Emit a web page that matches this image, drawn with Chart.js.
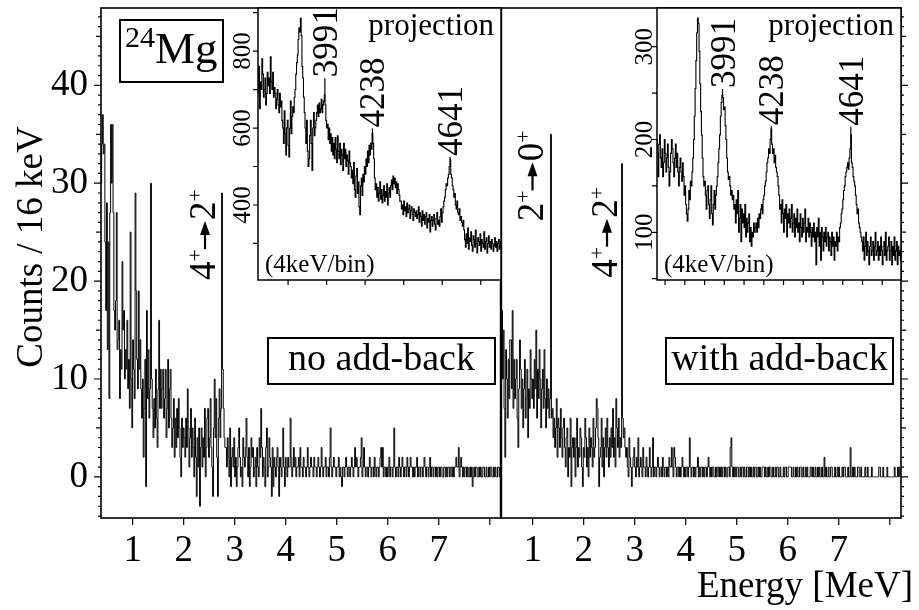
<!DOCTYPE html>
<html>
<head>
<meta charset="utf-8">
<script src="https://cdn.jsdelivr.net/npm/chart.js@4.4.1/dist/chart.umd.min.js"></script>
<style>
  html, body { margin: 0; padding: 0; background: #fff; }
  #wrap { position: relative; width: 919px; height: 610px; }
  #wrap canvas { position: absolute; left: 0; top: 0; }
</style>
</head>
<body>
<div id="wrap">
  <canvas id="mainNoAb" width="919" height="610"></canvas>
  <canvas id="mainAb" width="919" height="610"></canvas>
  <canvas id="projNoAb" width="919" height="610"></canvas>
  <canvas id="projAb" width="919" height="610"></canvas>
</div>
<script>
// singles spectra, 16 keV per bin, first bin centred at 0.384 MeV
const BIN_MEV = 0.016;
const FIRST_BIN_MEV = 0.384;

const countsNoAddBack = [
  30, 34, 37, 33, 34, 24, 17, 28, 13, 24, 8, 27, 36, 30,
  36, 27, 17, 15, 18, 27, 13, 14, 16, 8, 13, 11, 22, 15, 17, 10,
  13, 11, 16, 9, 12, 7, 25, 10, 5, 14, 11, 8, 29, 19, 12, 9, 19, 11, 14,
  9, 6, 10, 2, 7, 12, -1, 17, 8, 13, 6, 9, 30, 10, 7, 4, 8, 5, 11, 6, 3, 9, 16, 7, 11,
  7, 9, 11, 6, 8, 11, 4, 7, 12, 5, 9, 11, 6, 3, 5, 8, 2, 6, 3, 7, 4, 8, 5, 2, 0, 6, 3, 5,
  4, 2, 6, 3, 9, 5, 1, 4, 7, 2, 5, 3, 0, 6, 2, -2, 4, 1, 5, -3,
  3, 5, 1, 4, 2, 7, 0, 3, 6, 7, 2, 4, 8, 3, 1, -2, 5, 10, 4, 8, 2, -2, 6, 9, 4, 7,
  29,
  11, 7, 4, 3,
  3, 1, 4, 2, 0, 5, -1, 2, 3, 1, 4, 0, 2, -1, 1, 3, 5, 2, 0, 1,
  -1, 4, 2, 1, 3, 6, 2, 0, 3, -1, 1, 4, 2, 3, 0, 1, 2, -1, 3, 1,
  0, 4, 2, 7, 3, 0, 2, 1, -1, 3, 5, 0, 1, 4, 2, 1, -2, 3, -1, 2,
  1, 0, 2, 3, 1, -2, 2, 1, 0, 2, 5, 1, -1, 2,
  1, 0, 2, 1, 1, 6, 2, 0, 1, 3, 1, 2, 0, 1, 1, 2, 0, 3, 1, 1,
  0, 2, 1, 1, 0, 1, 3, 1, 0, 1, 2, 1, 1, 0, 2, 1, 1, 0, 1, 2,
  1, 0, 1, 3, 1, 0, 1, 1, 2, 0, 1, 1, 0, 2, 5, 1, 0, 1, 2, 1,
  1, 0, 1, 1, 2, 0, 1, 0, -1, 1, 1, 0, 1, 2, 1, 0, 1, 1, 0, 1,
  2, 1, 0, 1, 3, 1, 2, 1, 0, 1, 1, 2, 4, 0, 1, 3, 1, 0, 1, 1,
  0, 1, 2, 1, 0, 1, 1, 0, 2, 1, 0, 1, 1, 0, 1, 2, 3, 1, 3, 0,
  1, 1, 0, 1, 0, 1, 2, 0, 1, 1, 0, 1, 5, 1, 0, 1, 1, 0, 2, 1,
  0, 1, 2, 1, 0, 1, 1, 0, 2, 1, 0, 1, 2, 1, 1, 0, 1, 0, 1, 1,
  2, 0, 1, 1, 0, 1, 1, 0, 1, 2, 1, 0, 1, 1, 0, 1, 2, 0, 1, 1,
  0, 1, 1, 0, 1, 0, 1, 1, 0, 1, 1, 0, 0, 1, 1, 0, 1, 0, 1, 1,
  0, 1, 1, 0, 1, 0, 1, 1, 2, 1, 1, 3, 0, 1, 2, 1, 0, 1, 0, 1,
  1, 0, 1, 0, 0, 1, 0, 1, -1, 0, 1, 0, 1, 1, 0, 0, 1, 0, 1, 0,
  0, 1, 1, 0, 0, 1, 0, 0, 1, 0, 1, 1, 0, 0, 1, 0, 1, 0, 0, 1, 1, 0, 1
];

const countsAddBack = [
  12, 17, 10, 15, 7, 2, 13, 10, 6, 12, 8, 14,
  14, 9, 17, 7, 12, 8, 10, 12, 6, 3, 9, 14, 11, 7, 10, 5, 9, 12, 6, 8, 11, 4, 9, 7, 13, 10, 8,
  10, 7, 12, 9, 15, 6, 11, 8, 13, 10, 5, 9, 11, 7, 13, 8, 5, 10, 7, 9, 6, 8,
  35,
  6, 7, 4, 6, 3, 5, 8, 2, 6, 5, 3, 7, 4, 2, 5, 6, 3, 1, 4, 5, 0, 3, 2, 6, -1, 3, 4,
  2, 4, 0, 3, 6, 1, 3, 2, 5, 4, 1, -1, 3, 2, 6, 4, 1, 3, 0, 5,
  2, 4, 3, 1, 6, 2, 3, 5, 8, 7, 4, -1, 2, 3, 6, 1, 4, 0, 3, 5,
  2, 6, 3, 1, 4, 2, 5, 3, 7, 2, 4, 1, 8, 5, 3, 6, 2, 4, 3,
  32,
  6, 4, 5, 3,
  2, 3, 1, 0, 4, 2, 1, -1, 1, 2, 3, 1, 0, 2, 1, 4, 0, 1, 2, 1,
  0, 3, 1, 1, 0, 2, 1, 0, 1, 3, 1, 0, 1, 4, 0, 1,
  1, 0, 1, 2, 1, 0, 1, 1, 0, 2, 1, 0, 1, 1, 0, 1, 0, 2, 1, 1,
  3, 1, 0, 3, 2, 1, 0, 1, 1, 0, 1, 0, 1, 2, 1, 0, 1, 0, 1, 1,
  0, 1, 4, 1, 0, 1, 1, 0, 1, 0, 1, 1, 2, 0, 1, 0, 1, 1, 0, 1,
  0, 1, 1, 0, 1, 2, 1, 0, 1, 0, 1, 1, 0, 0, 1, 0, 1, 1, 0, 1,
  0, 1, 0, 1, 1, 0, 1, 0, 0, 1, 1, 0, 3, 4, 1, 0, 1, 0, 1, 0,
  1, 1, 0, 0, 1, 0, 1, 1, 0, 1, 0, 0, 1, 1, 0, 1, 0, 1, 0, 0,
  1, 0, 1, 1, 0, 0, 1, 0, 1, 0, 0, 1, 1, 1, 0, 1, 0, 0, 1, 0,
  1, 1, 0, 0, 1, 0, 0, 1, 0, 1, 1, 0, 0, 1, 0, 0, 0, 1, 0, 1,
  1, 0, 0, 1, 1, 1, 1, 0, 0, 1, 0, 0, 1, 0, 1, 0, 0, 1, 1, 0,
  0, 1, 0, 0, 1, 0, 1, 0, 0, 0, 1, 1, 0, 1, 0, 0, 1, 0, 0, 1,
  0, 1, 0, 0, 1, 0, 0, 2, 0, 1, 0, 0, 1, 0, 0, 1, 1, 0, 0, 0,
  1, 0, 0, 1, 0, 1, 0, 0, 0, 1, 0, 1, 1, 0, 0, 0, 1, 0, 0, 3,
  0, 0, 1, 0, 1, 0, 0, 0, 1, 1, 0, 0, 1, 0, 0, 0, 0, 1, 0, 0,
  1, 0, 0, 0, 0, 1, 0, 0, 0, 0, 0, 0, 0, 0, 1, 1, 0, 0, 0, 1,
  0, 0, 0, 0, 1, 0, 0, 0, 0, 0, 0, 0, 0, 1, 0, 0, 0, 1, 0, 1, 0
];

// coincidence projections, 4 keV per bin, first bin centred at 3646 keV
const PROJ_BIN_KEV = 4;
const PROJ_FIRST_KEV = 3646;

const projNoAddBack = [
  690, 760, 650, 720, 700, 780, 740, 680, 700, 730, 660, 690, 745, 710, 730, 690, 785, 720, 700, 745,
  680, 705, 690, 650, 675, 700, 660, 640, 690, 655, 670,
  620, 600, 560, 645, 585, 530, 600, 620, 555, 525, 600, 670, 585, 630, 655,
  640, 680, 700, 740, 770, 790, 830, 860, 850, 885,
  840, 760, 730, 680, 640,
  600, 560, 620, 540, 500, 520, 580, 620, 560, 490, 600, 640, 580, 600, 620,
  640, 660, 630, 665, 640, 650, 675, 640, 660, 670, 685,
  660, 620, 600, 610, 570, 600, 560, 585, 540, 575, 530, 560, 520, 575, 545, 510, 580, 540, 520, 560,
  505, 545, 530, 490, 560, 520, 545, 500, 530, 515, 480, 540, 510,
  500, 470, 490, 455, 510, 440, 420, 475, 495, 430, 460, 395, 375, 450, 470, 425, 480, 460, 500,
  480, 520, 500, 540, 510, 555, 530, 560, 545, 586,
  560, 520, 470, 440, 455, 420, 445, 410, 430, 460, 415, 440, 405, 425, 450, 410, 435, 420, 455, 400,
  430, 445, 420,
  450, 465, 440, 475, 455, 470, 445, 460, 430, 455, 440, 425, 410,
  410, 390, 400, 375, 410, 385, 395, 370, 405, 380, 390, 400, 365, 385, 395, 375, 360, 390, 380, 370,
  385, 365, 375, 395, 355, 380, 370, 345, 385, 360, 375, 350, 370, 380, 340, 365, 355, 375, 330, 360,
  370, 345, 360, 375, 350, 335, 365, 380, 350, 360, 345, 370, 390, 355, 380, 395, 410,
  420, 440, 455, 450, 470, 480, 500, 517,
  480, 470, 450, 440, 420, 430, 400, 390, 410, 380, 375, 390, 360, 370, 355, 345, 360,
  335, 310, 290, 325, 300, 340, 285, 315, 305, 330, 295, 280, 320, 310, 290, 335, 300, 275, 315, 305,
  295, 325, 280, 310, 300, 290, 330, 285, 305, 315, 275, 300, 320, 290, 305, 285, 310, 300, 280, 295,
  315, 290, 305, 280, 300, 310, 285, 295, 305
];

const projAddBack = [
  175, 190, 170, 200, 185, 160, 195, 205, 180, 170, 190, 160, 175, 200, 185, 165, 180, 195, 170, 150,
  165, 185, 200, 190, 175, 160, 180, 195, 170, 185, 165, 150, 170, 180, 165, 155, 175, 160, 140, 150,
  130, 120, 112,
  125, 145, 135, 155, 150,
  165, 180, 200, 225, 255, 285, 315, 331,
  325, 295, 260, 230, 205, 180, 160, 150,
  155, 140, 125, 145, 150, 130, 115, 135, 150, 120, 108, 130, 145, 125, 140, 150, 160,
  175, 190, 205, 225, 240, 248,
  245, 232, 235, 215, 200, 180, 165, 157, 160, 150, 140, 145, 135,
  140, 125, 130, 110, 135, 120, 145, 100, 115, 130, 90, 125, 110, 120, 105, 130, 95, 115, 100, 110,
  120, 90, 105, 85, 100, 95, 110, 100, 105,
  110, 100, 115, 105, 120, 115, 125, 130, 120, 135, 140, 150, 155, 165, 175, 180, 190, 185, 200, 211,
  195, 185, 190, 175, 183, 170, 165, 160, 150,
  140, 125, 130, 110, 135, 120, 100, 125, 115, 130, 95, 120, 110, 125, 105, 115, 130, 100, 110, 120,
  95, 115, 105, 125, 100, 110, 90, 120, 105, 95, 115, 100, 110, 125, 90, 105, 100, 115, 95, 110,
  100, 85, 105, 95, 110, 90, 100, 65, 105, 95, 115, 85, 100, 70, 105, 95, 80, 100, 90, 105,
  85, 95, 100, 80, 95, 90, 75, 100, 85, 95, 70, 90, 85, 100, 80, 95, 90, 105, 110, 120,
  125, 135, 145, 150, 160, 165, 170, 175, 168, 180, 190, 205,
  175, 170, 160, 155, 150, 140, 130, 120, 125, 110, 105, 100, 95,
  90, 80, 95, 70, 85, 100, 75, 90, 80, 65, 85, 95, 75, 80, 90, 70, 85, 100, 75, 80,
  90, 70, 85, 75, 95, 80, 65, 85, 90, 75, 100, 70, 80, 85, 95, 70, 80, 90, 65, 85,
  75, 95, 70, 80, 90, 65, 85, 75, 80, 70, 85, 75, 80
];

const energyTickLabels = [1, 2, 3, 4, 5, 6, 7];
const countTickLabels = [0, 10, 20, 30, 40];
const projPeaksKeV = [3991, 4238, 4641];
const projTickLabelsNoAddBack = [400, 600, 800];
const projTickLabelsAddBack = [100, 200, 300];
const transitionsNoAddBack = [{ from: '4', to: '2', mev: 2.752 }];
const transitionsAddBack = [{ from: '2', to: '0', mev: 1.36 }, { from: '4', to: '2', mev: 2.752 }];

const SERIF = '"Liberation Serif", "Times New Roman", Times, serif';
const font = px => px + 'px ' + SERIF;
Chart.defaults.font.family = SERIF;
Chart.defaults.color = '#000';

function toBins(values, first, width) {
  return values.map((v, i) => ({ x: first + i * width, y: v }));
}

// rotated "4+ -> 2+" style level label, reading bottom to top
function drawTransition(ctx, cx, cy, from, to) {
  ctx.save();
  ctx.translate(cx, cy);
  ctx.rotate(-Math.PI / 2);
  ctx.textAlign = 'left';
  ctx.textBaseline = 'alphabetic';
  let u = -45;
  const part = (s, size, w) => {
    ctx.font = font(size);
    ctx.fillText(s, u, w);
    u += ctx.measureText(s).width;
  };
  part(from, 37, 12);
  part('+', 22, -1);
  ctx.lineWidth = 2.2;
  ctx.beginPath();
  ctx.moveTo(u, 2);
  ctx.lineTo(u + 16, 2);
  ctx.stroke();
  ctx.beginPath();
  ctx.moveTo(u + 28, 2);
  ctx.lineTo(u + 14, -3);
  ctx.lineTo(u + 14, 7);
  ctx.closePath();
  ctx.fill();
  u += 29;
  part(to, 37, 12);
  part('+', 22, -1);
  ctx.restore();
}

function boxedText(ctx, text, box, baseline, size) {
  ctx.lineWidth = 2;
  ctx.strokeRect(box[0], box[1], box[2], box[3]);
  ctx.font = font(size);
  ctx.textAlign = 'center';
  ctx.textBaseline = 'alphabetic';
  ctx.fillText(text, box[0] + box[2] / 2, baseline);
}

// keep the plot area where the layout padding puts it
function fixAxis(size) {
  return s => {
    if (s.isHorizontal()) s.height = size; else s.width = size;
    s.paddingTop = 0;
    s.paddingBottom = 0;
    s.paddingLeft = 0;
    s.paddingRight = 0;
  };
}

function spectrumFrame(counts, tickSide, divider, transitions, offsets, decorate) {
  return {
    id: 'spectrumFrame',
    afterDraw(chart) {
      const { ctx, chartArea: a } = chart;
      const { x, y } = chart.scales;
      ctx.save();
      ctx.strokeStyle = '#000';
      ctx.fillStyle = '#000';

      // count ticks: every count, longer every 5 and at the labels
      ctx.lineWidth = 1.2;
      ctx.beginPath();
      for (let c = Math.ceil(y.min); c <= y.max; c++) {
        const len = c % 10 === 0 ? 7 : c % 5 === 0 ? 5 : 3;
        const py = y.getPixelForValue(c);
        if (tickSide === 'left') { ctx.moveTo(a.left - len, py); ctx.lineTo(a.left, py); }
        else { ctx.moveTo(a.right, py); ctx.lineTo(a.right + len, py); }
      }
      // energy ticks every MeV
      for (let e = Math.ceil(x.min); e <= x.max; e++) {
        const px = x.getPixelForValue(e);
        ctx.moveTo(px, a.bottom);
        ctx.lineTo(px, a.bottom + 7);
      }
      ctx.stroke();

      ctx.lineWidth = 1.6;
      ctx.strokeRect(a.left, a.top, a.right - a.left, a.bottom - a.top);
      if (divider) {
        ctx.lineWidth = 2.4;
        ctx.beginPath();
        ctx.moveTo(a.right, a.top);
        ctx.lineTo(a.right, a.bottom);
        ctx.stroke();
      }

      transitions.forEach((t, k) => {
        const bin = Math.round((t.mev - FIRST_BIN_MEV) / BIN_MEV);
        const px = x.getPixelForValue(t.mev);
        const py = y.getPixelForValue(counts[bin]);
        drawTransition(ctx, px + offsets[k][0], py + offsets[k][1], t.from, t.to);
      });

      decorate(ctx);
      ctx.restore();
    }
  };
}

function spectrumConfig(counts, side, padding, frame) {
  return {
    type: 'line',
    data: {
      datasets: [{
        data: toBins(counts, FIRST_BIN_MEV, BIN_MEV),
        stepped: 'middle', borderColor: '#000', borderWidth: 1, pointRadius: 0, fill: false
      }]
    },
    options: {
      responsive: false, animation: false, events: [], devicePixelRatio: 1,
      layout: { padding },
      plugins: { legend: { display: false }, tooltip: { enabled: false } },
      scales: {
        x: {
          type: 'linear', min: 0.38, max: 8.22,
          afterFit: fixAxis(92),
          grid: { display: false, drawTicks: false }, border: { display: false },
          ticks: {
            stepSize: 1, includeBounds: false, autoSkip: false, maxRotation: 0, padding: 11,
            color: '#000', font: { size: 37 },
            callback: v => energyTickLabels.includes(v) ? String(v) : ''
          }
        },
        y: {
          type: 'linear', position: side, min: -4.2, max: 47.9,
          afterFit: fixAxis(side === 'left' ? 101 : 18),
          grid: { display: false, drawTicks: false }, border: { display: false },
          ticks: {
            display: side === 'left', stepSize: 10, includeBounds: false, autoSkip: false, padding: 13,
            color: '#000', font: { size: 37 },
            callback: v => countTickLabels.includes(v) ? String(v) : ''
          }
        }
      }
    },
    plugins: [frame]
  };
}

function projectionFrame(values, gaps, tickLabels, yStep, xStep, labelGap) {
  return {
    id: 'projectionFrame',
    beforeDraw(chart) {
      const { ctx, chartArea: a } = chart;
      ctx.save();
      ctx.fillStyle = '#fff';
      ctx.fillRect(a.left, a.top, a.right - a.left, a.bottom - a.top);
      ctx.restore();
    },
    afterDraw(chart) {
      const { ctx, chartArea: a } = chart;
      const { x, y } = chart.scales;
      ctx.save();
      ctx.strokeStyle = '#000';
      ctx.fillStyle = '#000';
      ctx.lineWidth = 1.2;
      ctx.beginPath();
      for (let v = Math.ceil(y.min / yStep) * yStep; v <= y.max; v += yStep) {
        const py = y.getPixelForValue(v);
        ctx.moveTo(a.left - 5, py);
        ctx.lineTo(a.left, py);
      }
      for (let k = Math.ceil(x.min / xStep) * xStep; k <= x.max; k += xStep) {
        const px = x.getPixelForValue(k);
        ctx.moveTo(px, a.bottom);
        ctx.lineTo(px, a.bottom + 5);
      }
      ctx.stroke();
      ctx.lineWidth = 1.5;
      ctx.strokeRect(a.left, a.top, a.right - a.left, a.bottom - a.top);

      // rotated count labels
      ctx.font = font(25);
      ctx.textAlign = 'center';
      ctx.textBaseline = 'alphabetic';
      tickLabels.forEach(v => {
        ctx.save();
        ctx.translate(a.left - labelGap, y.getPixelForValue(v));
        ctx.rotate(-Math.PI / 2);
        ctx.fillText(String(v), 0, 0);
        ctx.restore();
      });

      // peak energies above the lines
      ctx.font = font(35);
      ctx.textAlign = 'left';
      projPeaksKeV.forEach((kev, k) => {
        const bin = Math.round((kev - PROJ_FIRST_KEV) / PROJ_BIN_KEV);
        const px = x.getPixelForValue(kev);
        const py = y.getPixelForValue(values[bin]);
        ctx.lineWidth = 1.2;
        ctx.beginPath();
        ctx.moveTo(px, py);
        ctx.lineTo(px, py - gaps[k]);
        ctx.stroke();
        ctx.save();
        ctx.translate(px, py - gaps[k] - 1);
        ctx.rotate(-Math.PI / 2);
        ctx.fillText(String(kev), 0, 12);
        ctx.restore();
      });

      ctx.font = font(31);
      ctx.textAlign = 'right';
      ctx.fillText('projection', a.right - 7, a.top + 27);
      ctx.font = font(25);
      ctx.textAlign = 'left';
      ctx.fillText('(4keV/bin)', a.left + 7, a.bottom - 8);
      ctx.restore();
    }
  };
}

function projectionConfig(values, xRange, yRange, padding, frame) {
  return {
    type: 'line',
    data: {
      datasets: [{
        data: toBins(values, PROJ_FIRST_KEV, PROJ_BIN_KEV),
        stepped: 'middle', borderColor: '#000', borderWidth: 1.1, pointRadius: 0, fill: false
      }]
    },
    options: {
      responsive: false, animation: false, events: [], devicePixelRatio: 1,
      layout: { padding },
      plugins: { legend: { display: false }, tooltip: { enabled: false } },
      scales: {
        x: { type: 'linear', display: false, min: xRange[0], max: xRange[1] },
        y: { type: 'linear', display: false, min: yRange[0], max: yRange[1] }
      }
    },
    plugins: [frame]
  };
}

new Chart(document.getElementById('mainNoAb'), spectrumConfig(
  countsNoAddBack, 'left', { left: 0, top: 8, right: 418, bottom: 0 },
  spectrumFrame(countsNoAddBack, 'left', true, transitionsNoAddBack, [[-19, 42]], ctx => {
    // nucleus tag
    ctx.lineWidth = 2;
    ctx.strokeRect(120, 20, 103, 62);
    ctx.textAlign = 'left';
    ctx.textBaseline = 'alphabetic';
    ctx.font = font(30);
    ctx.fillText('24', 125, 47);
    ctx.font = font(45);
    ctx.fillText('Mg', 155, 63);
    boxedText(ctx, 'no add-back', [268, 338, 227, 46], 370, 38);
    // axis title
    ctx.save();
    ctx.translate(42, 247);
    ctx.rotate(-Math.PI / 2);
    ctx.font = font(37);
    ctx.textAlign = 'center';
    ctx.fillText('Counts / 16 keV', 0, 0);
    ctx.restore();
  })
));

new Chart(document.getElementById('mainAb'), spectrumConfig(
  countsAddBack, 'right', { left: 501, top: 8, right: 0, bottom: 0 },
  spectrumFrame(countsAddBack, 'right', false, transitionsAddBack, [[-20.5, 42], [-17, 69]], ctx => {
    boxedText(ctx, 'with add-back', [666, 338, 227, 46], 370, 38);
    ctx.font = font(37);
    ctx.textAlign = 'right';
    ctx.fillText('Energy [MeV]', 913, 597);
  })
));

new Chart(document.getElementById('projNoAb'), projectionConfig(
  projNoAddBack, [3644, 4905], [205, 912], { left: 258, top: 8, right: 418, bottom: 330 },
  projectionFrame(projNoAddBack, [17, 5, 3], projTickLabelsNoAddBack, 100, 200, 8)
));

new Chart(document.getElementById('projAb'), projectionConfig(
  projAddBack, [3659, 4895], [48.6, 341.7], { left: 657, top: 8, right: 18, bottom: 330 },
  projectionFrame(projAddBack, [6, 3, 8], projTickLabelsAddBack, 50, 100, 5)
));
</script>
</body>
</html>
